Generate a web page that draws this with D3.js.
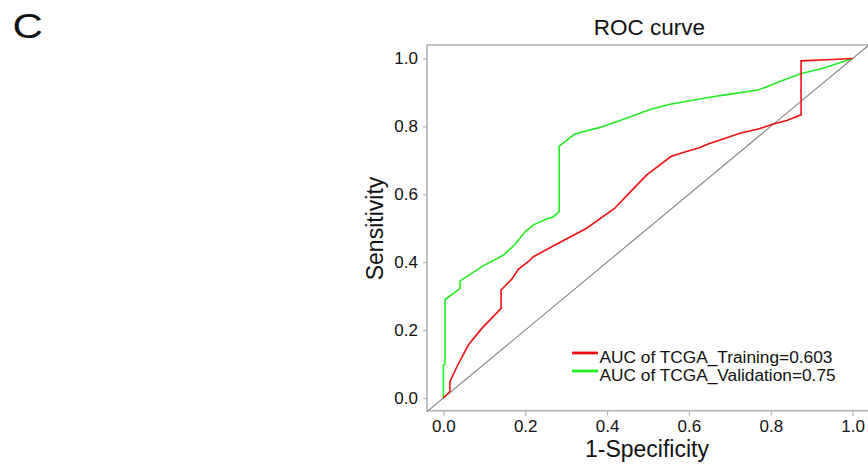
<!DOCTYPE html>
<html>
<head>
<meta charset="utf-8">
<script src="https://cdn.jsdelivr.net/npm/d3@7/dist/d3.min.js"></script>
<style>
  html, body { margin: 0; padding: 0; background: #fff; }
  svg { display: block; }
  text { font-family: "Liberation Sans", Arial, sans-serif; fill: #111; }
</style>
</head>
<body>
<svg id="chart" width="868" height="465"></svg>
<script>
// ---- data ----
const trainingFPR = [0, 0.016, 0.016, 0.033, 0.061, 0.094, 0.141, 0.141, 0.167, 0.183, 0.208, 0.22, 0.275, 0.35, 0.419, 0.444, 0.497, 0.556, 0.586, 0.627, 0.647, 0.725, 0.774, 0.806, 0.839, 0.874, 0.874, 0.95, 1];
const trainingTPR = [0, 0.019, 0.048, 0.092, 0.156, 0.205, 0.264, 0.318, 0.35, 0.379, 0.402, 0.416, 0.452, 0.5, 0.559, 0.591, 0.657, 0.711, 0.723, 0.738, 0.748, 0.78, 0.794, 0.807, 0.817, 0.834, 0.993, 0.997, 1];
const validationFPR = [0, 0, 0.004, 0.004, 0.041, 0.041, 0.094, 0.147, 0.175, 0.2, 0.22, 0.252, 0.269, 0.283, 0.283, 0.297, 0.322, 0.383, 0.432, 0.505, 0.554, 0.651, 0.684, 0.769, 0.822, 0.875, 0.928, 1];
const validationTPR = [0, 0.097, 0.1, 0.29, 0.323, 0.345, 0.387, 0.421, 0.452, 0.49, 0.51, 0.527, 0.534, 0.549, 0.742, 0.755, 0.778, 0.797, 0.817, 0.85, 0.865, 0.886, 0.892, 0.907, 0.932, 0.956, 0.971, 1];
const tickValues = [0, 0.2, 0.4, 0.6, 0.8, 1.0];
const seriesNames = ["AUC of TCGA_Training=0.603", "AUC of TCGA_Validation=0.75"];
const seriesColors = ["#f01010", "#22ee22"];

const svg = d3.select("#chart");

const x = d3.scaleLinear().domain([-0.04, 1.04]).range([427, 869]);
const y = d3.scaleLinear().domain([-0.0375, 1.04]).range([410.7, 44.9]);

// panel letter
svg.append("text").attr("x", 0).attr("y", 0)
  .attr("transform", "translate(12.5,37.5) scale(1.2,1)")
  .style("font-size", "35px").text("C");

// title
svg.append("text").attr("x", 649.5).attr("y", 35).attr("text-anchor", "middle")
  .style("font-size", "22.5px").text("ROC curve");

// frame
const frameColor = "#b4b4b4";
svg.append("rect").attr("x", x(-0.04)).attr("y", y(1.04))
  .attr("width", x(1.04) - x(-0.04)).attr("height", y(-0.0375) - y(1.04))
  .attr("fill", "none").attr("stroke", frameColor).attr("stroke-width", 1.6);

// axes
const xAxis = d3.axisBottom(x).tickValues(tickValues).tickFormat(d3.format(".1f")).tickSize(5).tickPadding(4.5);
const yAxis = d3.axisLeft(y).tickValues(tickValues).tickFormat(d3.format(".1f")).tickSize(4).tickPadding(5);

const gx = svg.append("g").attr("transform", `translate(0,${y(-0.0375)})`).call(xAxis);
const gy = svg.append("g").attr("transform", `translate(${x(-0.04)},0)`).call(yAxis);
[gx, gy].forEach(g => {
  g.select(".domain").remove();
  g.selectAll(".tick line").attr("stroke", frameColor).attr("stroke-width", 1.2);
  g.selectAll(".tick text").style("font-size", "17px").attr("fill", "#111")
    .style("font-family", "'Liberation Sans', Arial, sans-serif");
});
gx.selectAll(".tick text").attr("dy", "0.71em");

// axis titles
svg.append("text").attr("x", 647).attr("y", 457).attr("text-anchor", "middle")
  .style("font-size", "23px").text("1-Specificity");
svg.append("text").attr("transform", "translate(383,228.5) rotate(-90)")
  .attr("text-anchor", "middle").style("font-size", "23px").text("Sensitivity");

// diagonal reference
svg.append("line").attr("x1", x(-0.04)).attr("y1", y(-0.04))
  .attr("x2", x(1.04)).attr("y2", y(1.04))
  .attr("stroke", "#808080").attr("stroke-width", 1.1);

// curves
const line = d3.line().x(d => x(d[0])).y(d => y(d[1]));
const training = trainingFPR.map((v, i) => [v, trainingTPR[i]]);
const validation = validationFPR.map((v, i) => [v, validationTPR[i]]);
svg.append("path").datum(validation).attr("d", line)
  .attr("fill", "none").attr("stroke", seriesColors[1]).attr("stroke-width", 1.6);
svg.append("path").datum(training).attr("d", line)
  .attr("fill", "none").attr("stroke", seriesColors[0]).attr("stroke-width", 1.6);

// legend
const legend = svg.append("g");
seriesNames.forEach((name, i) => {
  const ly = 353 + i * 18;
  legend.append("line").attr("x1", 572).attr("x2", 598).attr("y1", ly).attr("y2", ly)
    .attr("stroke", seriesColors[i]).attr("stroke-width", 2.8);
  legend.append("text").attr("x", 599.5).attr("y", ly + 4).attr("dy", "0.35em")
    .style("font-size", "17.3px").text(name);
});
</script>
</body>
</html>
